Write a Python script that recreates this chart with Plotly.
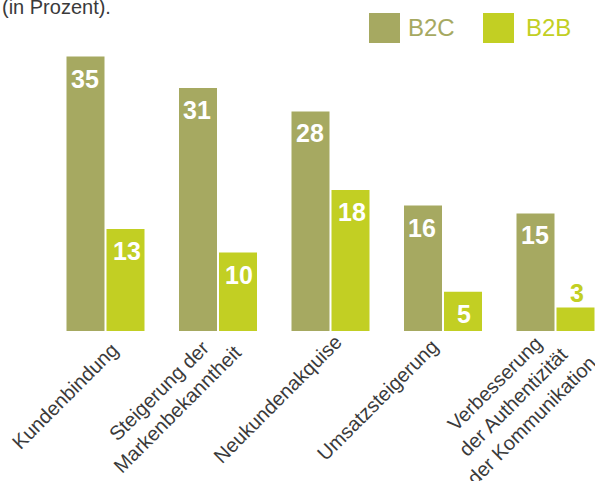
import plotly.graph_objects as go

# ---------------- data ----------------
categories = ["Kundenbindung", "Steigerung der Markenbekanntheit", "Neukundenakquise",
              "Umsatzsteigerung", "Verbesserung der Authentizität der Kommunikation"]
tick_labels = ["Kundenbindung", "Steigerung der<br>Markenbekanntheit", "Neukundenakquise",
               "Umsatzsteigerung", "Verbesserung<br>der Authentizität<br>der Kommunikation"]
series_names = ["B2C", "B2B"]
b2c_values = [35, 31, 28, 16, 15]
b2b_values = [13, 10, 18, 5, 3]
title_text = "(in Prozent)."

# ---------------- style ----------------
C_B2C = "#A6A961"
C_B2B = "#C2CF23"
TEXT = "#3a3a3a"
FONT = "Liberation Sans, Arial, Helvetica, sans-serif"

W, H = 595, 481
MB = 150
plot_h = H - MB            # 331 px plot area height
px_per_unit = 7.84
cat_px = 112.5
first_center_px = 105.5
x0 = -first_center_px / cat_px
x1 = (W - first_center_px) / cat_px
ymax = plot_h / px_per_unit

fig = go.Figure()
for name, vals, col in [(series_names[0], b2c_values, C_B2C), (series_names[1], b2b_values, C_B2B)]:
    fig.add_trace(go.Bar(x=categories, y=vals, name=name, marker=dict(color=col, line=dict(width=0)),
                         showlegend=False, hoverinfo="skip"))

annotations = []
# value labels
for vals, col, xs in [(b2c_values, C_B2C, -21), (b2b_values, C_B2B, 21)]:
    for cat, v in zip(categories, vals):
        inside = v * px_per_unit >= 30
        annotations.append(dict(
            x=cat, y=v, xref="x", yref="y", text=str(v), showarrow=False,
            xshift=xs, yshift=-6 if inside else -2,
            yanchor="top" if inside else "bottom", xanchor="center",
            font=dict(family=FONT, size=25, color="white" if inside else col, weight="bold")))

# category labels (rotated, centre positions in px)
label_centers = [(65, 396), (168, 400), (277.5, 399), (377.5, 400), (513, 402)]
for i, (cat, lab) in enumerate(zip(categories, tick_labels)):
    cx, cy = label_centers[i]
    gc = first_center_px + i * cat_px
    annotations.append(dict(
        x=cat, y=0, xref="x", yref="y", text=lab, showarrow=False,
        xshift=cx - gc, yshift=-(cy - plot_h), textangle=-45, align="center",
        xanchor="center", yanchor="middle",
        font=dict(family=FONT, size=20, color=TEXT)))

def px(x):
    return x / W

def py(y):
    return (plot_h - y) / plot_h

# title fragment
annotations.append(dict(x=0, y=py(7.5), xref="paper", yref="paper", text=title_text, showarrow=False,
                        xanchor="left", yanchor="middle",
                        font=dict(family=FONT, size=20, color=TEXT)))

# custom legend
shapes = []
legend_items = [(series_names[0], C_B2C, 369, 406), (series_names[1], C_B2B, 483, 524)]
for name, col, sx, tx in legend_items:
    shapes.append(dict(type="rect", xref="paper", yref="paper", x0=px(sx), x1=px(sx + 31),
                       y0=py(43), y1=py(13), fillcolor=col, line=dict(width=0)))
    annotations.append(dict(x=px(tx), y=py(28), xref="paper", yref="paper", text=name, showarrow=False,
                            xanchor="left", yanchor="middle",
                            font=dict(family=FONT, size=24, color=col)))

fig.update_layout(
    width=W, height=H,
    margin=dict(l=0, r=0, t=0, b=MB, pad=0),
    paper_bgcolor="white", plot_bgcolor="white",
    barmode="group", bargap=1 - 80 / cat_px, bargroupgap=0.05,
    xaxis=dict(range=[x0, x1], showticklabels=False, showgrid=False, zeroline=False,
               showline=False, ticks="", fixedrange=True),
    yaxis=dict(range=[0, ymax], visible=False, showgrid=False, zeroline=False, fixedrange=True),
    annotations=annotations, shapes=shapes,
    showlegend=False,
)

fig.write_html("out.html", config={"displayModeBar": False})
